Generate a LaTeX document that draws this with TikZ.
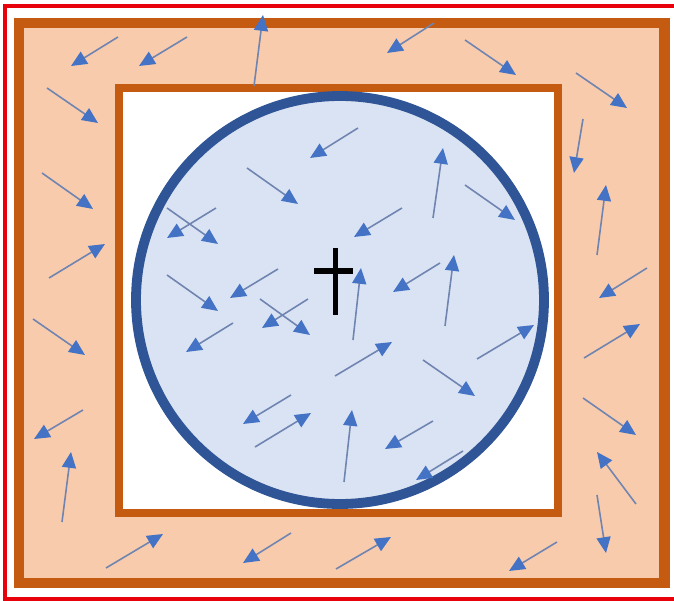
\documentclass[tikz,border=0pt]{standalone}
\usetikzlibrary{arrows.meta}

\definecolor{frame}{HTML}{E8000B}
\definecolor{rust}{HTML}{C55A11}
\definecolor{peach}{HTML}{F8CBAD}
\definecolor{discfill}{HTML}{DAE3F3}
\definecolor{discline}{HTML}{2F5597}
\definecolor{arrline}{HTML}{6F84B0}
\definecolor{arrhead}{HTML}{4472C4}

\begin{document}
\begin{tikzpicture}[
  x=0.02cm, y=-0.02cm,
  wall/.style={draw=rust, line width=5.8pt},
  disc/.style={draw=discline, fill=discfill, line width=5.6pt},
  arr/.style={draw=arrline, line width=0.9pt,
    -{Triangle[length=9pt, width=8pt, color=arrhead]}},
  cross/.style={draw=black, line width=3pt}
]
\useasboundingbox (0,0) rectangle (674,601);

% Outer red frame (its right side runs off the page)
\coordinate (rtr) at (680,6);
\coordinate (rtl) at (5,6);
\coordinate (rbl) at (5,599);
\coordinate (rbr) at (680,599);
\draw[frame, line width=2.3pt] (rtr) -- (rtl) -- (rbl) -- (rbr);

% Outer wall and inner box
\draw[wall, fill=peach] (19,23) rectangle (664.5,583);
\draw[wall, fill=white, line width=4.6pt] (119,88) rectangle (558,513);

% Disc
\node[disc, circle, minimum size=408*0.02cm, inner sep=0pt] (disc) at (340,300) {};

% Cross in the centre
\coordinate (ctop) at (335.5,248);
\coordinate (cbot) at (335.5,315);
\coordinate (cleft) at (314,271);
\coordinate (cright) at (353,271);
\draw[cross] (ctop) -- (cbot);
\draw[cross] (cleft) -- (cright);

% Arrows in the top band
\draw[arr] (118,37) -- (71,66);
\draw[arr] (187,37) -- (139,66);
\draw[arr] (254,86) -- (263,15);
\draw[arr] (434,23) -- (387,53);
\draw[arr] (465,40) -- (516,75);
\draw[arr] (576,73) -- (627,108);

% Arrows in the left band
\draw[arr] (47,88) -- (98,123);
\draw[arr] (42,173) -- (93,209);
\draw[arr] (49,278) -- (105,244);
\draw[arr] (33,319) -- (85,355);
\draw[arr] (83,410) -- (34,439);
\draw[arr] (62,522) -- (71,452);

% Arrows in the bottom band
\draw[arr] (106,568) -- (163,534);
\draw[arr] (291,533) -- (243,563);
\draw[arr] (336,569) -- (391,537);
\draw[arr] (557,542) -- (509,571);

% Arrows in the right band
\draw[arr] (583,119) -- (574,173);
\draw[arr] (597,255) -- (606,185);
\draw[arr] (647,268) -- (599,298);
\draw[arr] (584,358) -- (640,324);
\draw[arr] (583,398) -- (636,435);
\draw[arr] (636,504) -- (597,452);
\draw[arr] (597,495) -- (606,553);

% Arrows inside the disc
\draw[arr] (358,128) -- (310,158);
\draw[arr] (247,168) -- (298,204);
\draw[arr] (167,208) -- (218,244);
\draw[arr] (216,208) -- (167,238);
\draw[arr] (167,275) -- (218,311);
\draw[arr] (278,269) -- (230,298);
\draw[arr] (260,299) -- (310,335);
\draw[arr] (308,299) -- (262,328);
\draw[arr] (233,323) -- (186,352);
\draw[arr] (335,376) -- (392,342);
\draw[arr] (291,395) -- (243,424);
\draw[arr] (255,447) -- (311,413);
\draw[arr] (344,482) -- (352,410);
\draw[arr] (433,421) -- (385,449);
\draw[arr] (463,451) -- (416,480);
\draw[arr] (423,360) -- (475,396);
\draw[arr] (477,359) -- (534,325);
\draw[arr] (353,340) -- (361,268);
\draw[arr] (445,326) -- (454,255);
\draw[arr] (440,263) -- (393,292);
\draw[arr] (402,208) -- (354,237);
\draw[arr] (433,218) -- (443,148);
\draw[arr] (465,185) -- (515,220);

\end{tikzpicture}
\end{document}
